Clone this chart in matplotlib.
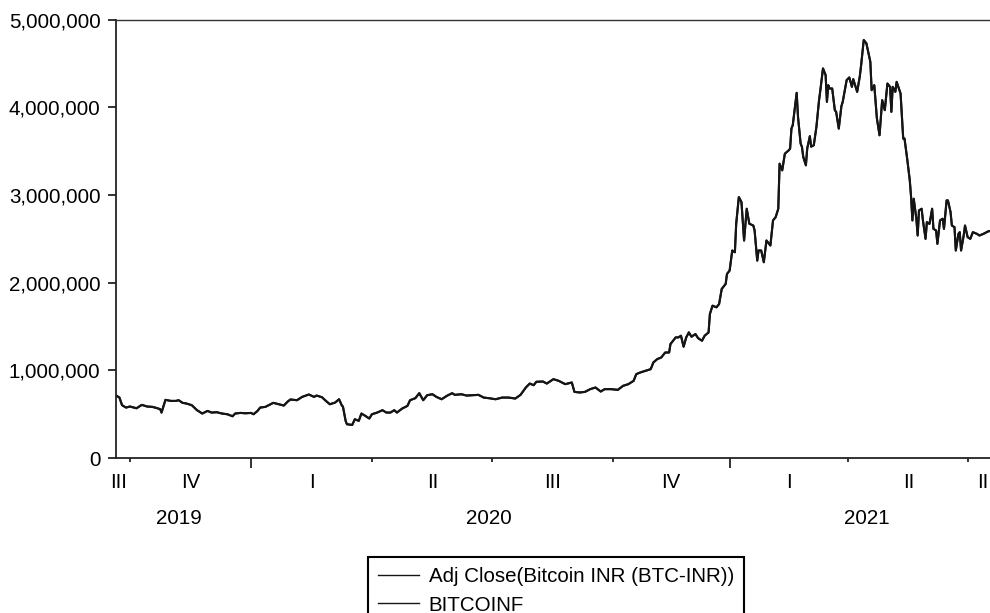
import matplotlib
matplotlib.use("Agg")
import matplotlib.pyplot as plt
from matplotlib.ticker import FuncFormatter
from matplotlib.lines import Line2D
import numpy as np

plt.rcParams['font.family'] = ['Liberation Sans', 'DejaVu Sans']

# Observation number (days since start of sample) and closing price in million INR
day = [0, 3, 5, 8, 11, 14, 16, 20, 24, 28, 32, 34, 35, 37, 38, 42, 46, 48, 51, 54,
       58, 62, 66, 70, 73, 77, 81, 85, 89, 91, 95, 99, 103, 105, 108, 110, 114, 118, 120, 124,
       128, 131, 133, 138, 142, 147, 151, 153, 157, 160, 163, 167, 170, 172, 173, 175, 176, 180, 182, 185,
       187, 190, 193, 195, 199, 203, 206, 209, 212, 214, 218, 222, 224, 228, 231, 234, 237, 241, 244, 248,
       252, 256, 258, 263, 267, 271, 276, 280, 284, 289, 294, 299, 304, 308, 312, 315, 318, 320, 325, 328,
       333, 337, 342, 347, 349, 353, 357, 361, 365, 369, 372, 377, 382, 386, 390, 394, 396, 399, 403, 407,
       409, 412, 415, 418, 421, 422, 426, 428, 430, 432, 434, 436, 438, 441, 443, 446, 448, 451, 452, 454,
       457, 459, 461, 464, 465, 467, 469, 471, 472, 474, 476, 478, 480, 482, 485, 486, 488, 489, 491, 493,
       495, 498, 500, 502, 504, 505, 507, 509, 512, 513, 514, 515, 517, 518, 519, 521, 522, 523, 525, 526,
       528, 529, 531, 533, 535, 536, 538, 540, 541, 542, 543, 545, 547, 548, 550, 552, 553, 556, 558, 560,
       561, 564, 566, 567, 569, 571, 574, 575, 577, 579, 581, 583, 585, 587, 589, 590, 591, 593, 594, 597,
       599, 600, 602, 604, 605, 606, 607, 609, 610, 611, 613, 614, 616, 617, 619, 621, 622, 624, 625, 627,
       629, 630, 632, 633, 635, 636, 638, 639, 641, 642, 643, 645, 646, 648, 650, 652, 655, 657, 660, 664,
       665]
price_m = [0.717, 0.689, 0.602, 0.575, 0.587, 0.575, 0.567, 0.606, 0.587, 0.583, 0.567, 0.556, 0.518, 0.613, 0.663, 0.651, 0.651, 0.659, 0.629, 0.621,
           0.602, 0.545, 0.507, 0.537, 0.518, 0.522, 0.507, 0.499, 0.476, 0.507, 0.514, 0.510, 0.514, 0.499, 0.537, 0.575, 0.583, 0.613, 0.629, 0.613,
           0.598, 0.644, 0.667, 0.659, 0.697, 0.724, 0.697, 0.712, 0.693, 0.651, 0.613, 0.632, 0.670, 0.602, 0.583, 0.423, 0.385, 0.377, 0.442, 0.423,
           0.507, 0.480, 0.450, 0.499, 0.518, 0.545, 0.518, 0.518, 0.545, 0.518, 0.564, 0.594, 0.659, 0.682, 0.739, 0.659, 0.716, 0.727, 0.697, 0.670,
           0.709, 0.739, 0.720, 0.727, 0.712, 0.716, 0.720, 0.689, 0.682, 0.670, 0.689, 0.689, 0.678, 0.720, 0.803, 0.849, 0.830, 0.869, 0.872, 0.849,
           0.899, 0.880, 0.842, 0.861, 0.754, 0.747, 0.754, 0.785, 0.804, 0.758, 0.785, 0.785, 0.777, 0.823, 0.842, 0.880, 0.956, 0.975, 0.994, 1.013,
           1.089, 1.128, 1.146, 1.203, 1.203, 1.299, 1.375, 1.375, 1.394, 1.269, 1.375, 1.432, 1.383, 1.413, 1.367, 1.337, 1.394, 1.432, 1.642, 1.737,
           1.718, 1.756, 1.928, 1.985, 2.099, 2.137, 2.366, 2.346, 2.671, 2.975, 2.918, 2.480, 2.842, 2.671, 2.651, 2.594, 2.251, 2.366, 2.366, 2.232,
           2.480, 2.423, 2.709, 2.746, 2.842, 3.356, 3.280, 3.470, 3.509, 3.528, 3.756, 3.794, 4.042, 4.164, 3.889, 3.585, 3.547, 3.432, 3.337, 3.528,
           3.669, 3.550, 3.566, 3.775, 4.080, 4.194, 4.442, 4.366, 4.061, 4.251, 4.213, 4.213, 3.966, 3.947, 3.756, 4.011, 4.061, 4.309, 4.339, 4.232,
           4.320, 4.175, 4.352, 4.480, 4.766, 4.728, 4.518, 4.194, 4.251, 3.871, 3.680, 4.080, 3.966, 4.270, 4.232, 3.947, 4.232, 4.175, 4.289, 4.156,
           3.642, 3.642, 3.414, 3.166, 2.975, 2.709, 2.956, 2.728, 2.537, 2.823, 2.842, 2.709, 2.499, 2.689, 2.670, 2.842, 2.613, 2.594, 2.442, 2.709,
           2.728, 2.613, 2.937, 2.937, 2.804, 2.651, 2.632, 2.366, 2.556, 2.575, 2.366, 2.537, 2.651, 2.518, 2.499, 2.575, 2.556, 2.537, 2.556, 2.587,
           2.587]

series_names = ["Adj Close(Bitcoin INR (BTC-INR))", "BITCOINF"]

quarter_ticks = [11, 195, 286, 378, 557, 648]
year_ticks = [103, 467]
quarter_labels = ["III", "IV", "I", "II", "III", "IV", "I", "II", "II"]
quarter_label_pos = [2, 57, 149, 241, 332, 422, 512, 603, 664]
year_labels = ["2019", "2020", "2021"]
year_label_pos = [48, 284, 571]

y_ticks = [0, 1_000_000, 2_000_000, 3_000_000, 4_000_000, 5_000_000]

price = np.array(price_m) * 1e6

FS = 14.8
W, H = 990, 613
fig = plt.figure(figsize=(W / 100, H / 100), dpi=100)
ax = fig.add_axes([115.5 / W, 1 - 458 / H, (W - 115.5) / W, (458 - 19.5) / H])

line_color = "#151515"
ax.plot(day, price, color=line_color, lw=1.5, solid_joinstyle="round")
ax.plot(day, price, color=line_color, lw=1.5, solid_joinstyle="round")

ax.set_xlim(0, 665)
ax.set_ylim(0, 5_000_000)

# Frame: left, top and bottom lines
ax.spines["right"].set_visible(False)
for s in ("left", "bottom"):
    ax.spines[s].set_linewidth(1.3)
    ax.spines[s].set_color("#222222")
ax.spines["top"].set_linewidth(1.0)
ax.spines["top"].set_color("#333333")

ax.set_yticks(y_ticks)
ax.yaxis.set_major_formatter(FuncFormatter(lambda v, p: f"{int(v):,}"))
ax.tick_params(axis="y", length=5.8, width=1.3, pad=5, labelsize=FS, color="#222222")

ax.set_xticks(year_ticks)
ax.set_xticks(quarter_ticks, minor=True)
ax.set_xticklabels([])
ax.tick_params(axis="x", which="major", length=7, width=1.3, color="#222222")
ax.tick_params(axis="x", which="minor", length=3.2, width=1.3, color="#222222")

xt = ax.get_xaxis_transform()
q_y = -(482 - 458) / (458 - 19.5)
yr_y = -(518 - 458) / (458 - 19.5)
last = len(quarter_labels) - 1
for i, (lab, pos) in enumerate(zip(quarter_labels, quarter_label_pos)):
    ax.text(pos, q_y, lab, transform=xt, ha="right" if i == last else "center",
            va="center", fontsize=FS, clip_on=False)
for lab, pos in zip(year_labels, year_label_pos):
    ax.text(pos, yr_y, lab, transform=xt, ha="center", va="center", fontsize=FS, clip_on=False)

handles = [Line2D([], [], color=line_color, lw=1.0) for _ in series_names]
leg = fig.legend(handles, series_names, loc="upper left",
                 bbox_to_anchor=(368 / W, 1 - 557 / H), fontsize=FS,
                 frameon=True, fancybox=False, framealpha=1, edgecolor="black",
                 borderpad=0.5, handlelength=2.0, handletextpad=0.45,
                 labelspacing=0.45, borderaxespad=0)
leg.get_frame().set_linewidth(1.5)

fig.savefig("out.png", dpi=100)
